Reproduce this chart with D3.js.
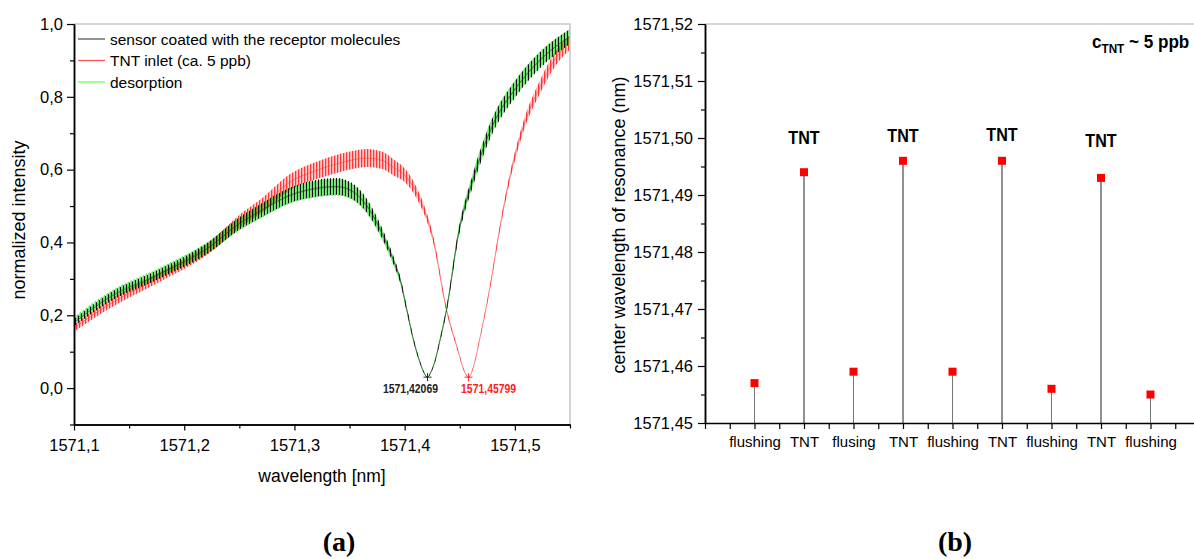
<!DOCTYPE html>
<html>
<head>
<meta charset="utf-8">
<script src="https://cdn.jsdelivr.net/npm/d3@7"></script>
<style>
  body { margin: 0; background: #fff; }
  svg { display: block; font-family: Arial, "Liberation Sans", sans-serif; }
</style>
</head>
<body>
<svg id="fig" width="1194" height="559"></svg>
<script>
// ---- panel (a): spectra, [wavelength nm, normalized intensity, ripple half-height]
var coatedSpectrum = [
  [1571.100, 0.180, 0.010], [1571.133, 0.250, 0.012], [1571.178, 0.314, 0.013],
  [1571.223, 0.388, 0.015], [1571.250, 0.452, 0.017], [1571.270, 0.488, 0.019],
  [1571.296, 0.530, 0.021], [1571.318, 0.548, 0.023], [1571.338, 0.554, 0.023],
  [1571.352, 0.542, 0.022], [1571.366, 0.500, 0.019], [1571.378, 0.435, 0.015],
  [1571.390, 0.350, 0.011], [1571.396, 0.298, 0.009], [1571.402, 0.215, 0.007],
  [1571.408, 0.133, 0.005], [1571.414, 0.070, 0.003], [1571.417, 0.046, 0.002],
  [1571.4207, 0.030, 0.001], [1571.424, 0.045, 0.002], [1571.427, 0.068, 0.003],
  [1571.432, 0.130, 0.005], [1571.438, 0.215, 0.007], [1571.449, 0.426, 0.012],
  [1571.462, 0.572, 0.017], [1571.478, 0.709, 0.021], [1571.502, 0.828, 0.023],
  [1571.523, 0.901, 0.022], [1571.550, 0.966, 0.020]
];
var tntSpectrum = [
  [1571.100, 0.165, 0.010], [1571.133, 0.232, 0.012], [1571.178, 0.305, 0.013],
  [1571.223, 0.386, 0.015], [1571.251, 0.460, 0.018], [1571.270, 0.500, 0.020],
  [1571.296, 0.566, 0.022], [1571.320, 0.598, 0.024], [1571.341, 0.618, 0.025],
  [1571.366, 0.632, 0.025], [1571.380, 0.625, 0.024], [1571.390, 0.606, 0.022],
  [1571.400, 0.585, 0.019], [1571.411, 0.535, 0.015], [1571.426, 0.407, 0.009],
  [1571.438, 0.215, 0.005], [1571.449, 0.097, 0.003], [1571.453, 0.055, 0.002],
  [1571.458, 0.030, 0.001], [1571.463, 0.065, 0.002], [1571.468, 0.133, 0.003],
  [1571.4775, 0.279, 0.005], [1571.4866, 0.444, 0.007], [1571.4956, 0.581, 0.010],
  [1571.5077, 0.718, 0.014], [1571.5229, 0.828, 0.018], [1571.538, 0.910, 0.020],
  [1571.550, 0.950, 0.020]
];
var desorptionSpectrum = [
  [1571.100, 0.186, 0.010], [1571.133, 0.254, 0.012], [1571.178, 0.318, 0.013],
  [1571.223, 0.390, 0.015], [1571.250, 0.450, 0.017], [1571.270, 0.486, 0.019],
  [1571.296, 0.528, 0.021], [1571.318, 0.546, 0.023], [1571.338, 0.552, 0.023],
  [1571.352, 0.540, 0.022], [1571.366, 0.497, 0.019], [1571.378, 0.432, 0.015],
  [1571.390, 0.348, 0.011], [1571.396, 0.296, 0.009], [1571.402, 0.213, 0.007],
  [1571.408, 0.131, 0.005], [1571.414, 0.069, 0.003], [1571.417, 0.046, 0.002],
  [1571.4207, 0.030, 0.001], [1571.424, 0.046, 0.002], [1571.427, 0.070, 0.003],
  [1571.432, 0.133, 0.005], [1571.438, 0.218, 0.007], [1571.449, 0.430, 0.012],
  [1571.462, 0.575, 0.017], [1571.478, 0.712, 0.021], [1571.502, 0.830, 0.023],
  [1571.523, 0.903, 0.022], [1571.550, 0.966, 0.020]
];
var legendLabels = ["sensor coated with the receptor molecules", "TNT inlet (ca. 5 ppb)", "desorption"];
var dipWavelengths = [1571.42069, 1571.45799];
var dipIntensity = [0.03, 0.03];
var dipLabels = ["1571,42069", "1571,45799"];
var specXTicks = [1571.1, 1571.2, 1571.3, 1571.4, 1571.5];
var specXMinor = [1571.15, 1571.25, 1571.35, 1571.45, 1571.55];
var specYTicks = [0, 0.2, 0.4, 0.6, 0.8, 1.0];
var specYMinor = [-0.1, 0.1, 0.3, 0.5, 0.7, 0.9];

// ---- panel (b): center wavelength per step
var phases = ["flushing", "TNT", "flusing", "TNT", "flushing", "TNT", "flushing", "TNT", "flushing"];
var resonance = [1571.457, 1571.494, 1571.459, 1571.496, 1571.459, 1571.496, 1571.456, 1571.493, 1571.455];
var tntLabelLevel = [1571.5002, 1571.5004, 1571.5007, 1571.4996];
var shiftYTicks = [1571.45, 1571.46, 1571.47, 1571.48, 1571.49, 1571.50, 1571.51, 1571.52];
var shiftYMinor = [1571.455, 1571.465, 1571.475, 1571.485, 1571.495, 1571.505, 1571.515];
var shiftXTicks = d3.range(0, 10, 0.5);

var svg = d3.select("#fig");
var loc = d3.formatLocale({decimal: ",", thousands: ".", grouping: [3], currency: ["", ""]});
var f1 = loc.format(".1f"), f2 = loc.format(".2f");

function styleAxis(g, size) {
  g.attr("font-family", null).attr("font-size", size);
  g.select(".domain").attr("stroke", "#000").attr("stroke-width", 1.5);
  g.selectAll(".tick line").attr("stroke", "#000").attr("stroke-width", 1.2);
  g.selectAll(".tick text").attr("fill", "#000");
}

// bold labels in the figure are condensed; squeeze them horizontally
function narrowText(parent, x, y, squeeze) {
  return parent.append("text")
    .attr("transform", "translate(" + x + "," + y + ") scale(" + squeeze + ",1)")
    .attr("font-weight", "bold");
}

// ================= panel (a)
var xA = d3.scaleLinear().domain([1571.1, 1571.55]).range([74, 570]);
var yA = d3.scaleLinear().domain([-0.1, 1.0]).range([424.5, 24]);
var gA = svg.append("g");
var defs = svg.append("defs");

defs.append("clipPath").attr("id", "clipA").append("rect")
  .attr("x", xA.range()[0]).attr("y", yA.range()[1])
  .attr("width", xA.range()[1] - xA.range()[0]).attr("height", yA.range()[0] - yA.range()[1]);

function stripes(id, color, offset, w) {
  var p = defs.append("pattern").attr("id", id)
    .attr("patternUnits", "userSpaceOnUse").attr("width", 3).attr("height", 4).attr("x", offset);
  p.append("rect").attr("width", w).attr("height", 4).attr("fill", color);
}
stripes("stripeRed", "#ff2020", 0.8, 1.5);
stripes("stripeGreen", "#10e010", 1.6, 1.2);
stripes("stripeBlack", "#111", 0, 1.1);

var series = [
  {data: tntSpectrum, pat: "stripeRed", line: "#ff3030"},
  {data: desorptionSpectrum, pat: "stripeGreen", line: "#20d020"},
  {data: coatedSpectrum, pat: "stripeBlack", line: "#222"}
];

var band = d3.area()
  .x(function (d) { return xA(d[0]); })
  .y0(function (d) { return yA(d[1] - d[2]); })
  .y1(function (d) { return yA(d[1] + d[2]); })
  .curve(d3.curveMonotoneX);
var mid = d3.line()
  .x(function (d) { return xA(d[0]); })
  .y(function (d) { return yA(d[1]); })
  .curve(d3.curveMonotoneX);

var plotA = gA.append("g").attr("clip-path", "url(#clipA)");
series.forEach(function (s) {
  plotA.append("path").attr("d", band(s.data)).attr("fill", "url(#" + s.pat + ")");
  plotA.append("path").attr("d", mid(s.data)).attr("fill", "none")
    .attr("stroke", s.line).attr("stroke-width", 0.9).attr("stroke-opacity", 0.6);
});

// frame
gA.append("path")
  .attr("d", "M" + xA.range()[0] + "," + yA.range()[1] + "H" + xA.range()[1] + "V" + yA.range()[0])
  .attr("fill", "none").attr("stroke", "#c8c8c8").attr("stroke-width", 1.5);

// axes
gA.append("g").attr("transform", "translate(0," + yA(-0.1) + ")")
  .call(d3.axisBottom(xA).tickValues(specXMinor).tickSize(4).tickSizeOuter(0).tickFormat(""))
  .call(styleAxis, 16.5);
gA.append("g").attr("transform", "translate(0," + yA(-0.1) + ")")
  .call(d3.axisBottom(xA).tickValues(specXTicks).tickSize(6).tickSizeOuter(0).tickPadding(9).tickFormat(f1))
  .call(styleAxis, 16.5);
gA.append("g").attr("transform", "translate(" + xA(1571.1) + ",0)")
  .call(d3.axisLeft(yA).tickValues(specYMinor).tickSize(4).tickSizeOuter(0).tickFormat(""))
  .call(styleAxis, 16.5);
gA.append("g").attr("transform", "translate(" + xA(1571.1) + ",0)")
  .call(d3.axisLeft(yA).tickValues(specYTicks).tickSize(7).tickSizeOuter(0).tickPadding(4).tickFormat(f1))
  .call(styleAxis, 16.5);

gA.append("text").attr("x", 322).attr("y", 482).attr("text-anchor", "middle")
  .attr("font-size", 17.5).text("wavelength [nm]");
gA.append("text").attr("transform", "translate(25,220) rotate(-90)").attr("text-anchor", "middle")
  .attr("font-size", 18).text("normalized intensity");

// legend
var legendColors = ["#555", "#ff5a5a", "#66ff66"];
legendLabels.forEach(function (t, i) {
  var y = 39 + i * 21.5;
  gA.append("line").attr("x1", 78).attr("x2", 105).attr("y1", y).attr("y2", y)
    .attr("stroke", legendColors[i]).attr("stroke-width", 1.3);
  gA.append("text").attr("x", 110).attr("y", y + 5.5).attr("font-size", 15.5).text(t);
});

// dip markers
var dipColors = ["#222", "#ff2020"];
var dipShift = [-17, 20];
dipWavelengths.forEach(function (w, i) {
  var cx = xA(w), cy = yA(dipIntensity[i]);
  gA.append("path").attr("d", "M" + (cx - 4) + "," + cy + "h8M" + cx + "," + (cy - 4) + "v8")
    .attr("stroke", dipColors[i]).attr("stroke-width", 1);
  narrowText(gA, cx + dipShift[i], 393, 0.87).attr("text-anchor", "middle")
    .attr("font-size", 12).attr("fill", dipColors[i]).text(dipLabels[i]);
});

// ================= panel (b)
var xB = d3.scaleLinear().domain([0, 10]).range([705, 1200]);
var yB = d3.scaleLinear().domain([1571.45, 1571.52]).range([423, 24]);
var gB = svg.append("g");

gB.append("line").attr("x1", xB(0)).attr("x2", 1194).attr("y1", yB(1571.52)).attr("y2", yB(1571.52))
  .attr("stroke", "#c8c8c8").attr("stroke-width", 1.5);

// drop lines and points
resonance.forEach(function (v, i) {
  var x = xB(i + 1);
  gB.append("line").attr("x1", x).attr("x2", x).attr("y1", yB(v)).attr("y2", yB(1571.45))
    .attr("stroke", phases[i] === "TNT" ? "#222" : "#777").attr("stroke-width", 1);
});
gB.selectAll("rect.pt").data(resonance).enter().append("rect").attr("class", "pt")
  .attr("x", function (d, i) { return xB(i + 1) - 4; })
  .attr("y", function (d) { return yB(d) - 4; })
  .attr("width", 8).attr("height", 8).attr("fill", "#ff0000");

gB.append("g").attr("transform", "translate(0," + yB(1571.45) + ")")
  .call(d3.axisBottom(xB).tickValues(shiftXTicks).tickSize(6).tickSizeOuter(0).tickPadding(7.5)
    .tickFormat(function (d) { return (d % 1 === 0 && d >= 1) ? phases[d - 1] : ""; }))
  .call(styleAxis, 15);
gB.append("g").attr("transform", "translate(" + xB(0) + ",0)")
  .call(d3.axisLeft(yB).tickValues(shiftYMinor).tickSize(4).tickSizeOuter(0).tickFormat(""))
  .call(styleAxis, 16.5);
gB.append("g").attr("transform", "translate(" + xB(0) + ",0)")
  .call(d3.axisLeft(yB).tickValues(shiftYTicks).tickSize(7).tickSizeOuter(0).tickPadding(5).tickFormat(f2))
  .call(styleAxis, 16.5);

gB.append("text").attr("transform", "translate(625,225) rotate(-90)").attr("text-anchor", "middle")
  .attr("font-size", 18).text("center wavelength of resonance (nm)");

// TNT labels
var tntIdx = [];
phases.forEach(function (p, i) { if (p === "TNT") tntIdx.push(i); });
tntIdx.forEach(function (idx, k) {
  narrowText(gB, xB(idx + 1), yB(tntLabelLevel[k]), 0.87).attr("dy", "0.36em")
    .attr("text-anchor", "middle").attr("font-size", 18.5).text("TNT");
});

var conc = narrowText(gB, 1092, 48, 0.9).attr("font-size", 19);
conc.append("tspan").text("c");
conc.append("tspan").attr("dy", 5).attr("font-size", 13).text("TNT");
conc.append("tspan").attr("dy", -5).text(" ~ 5 ppb");

// panel letters
svg.append("text").attr("x", 339).attr("y", 551).attr("text-anchor", "middle")
  .attr("font-family", '"Liberation Serif", "Times New Roman", serif').attr("font-weight", "bold")
  .attr("font-size", 28).text("(a)");
svg.append("text").attr("x", 955).attr("y", 551).attr("text-anchor", "middle")
  .attr("font-family", '"Liberation Serif", "Times New Roman", serif').attr("font-weight", "bold")
  .attr("font-size", 28).text("(b)");
</script>
</body>
</html>
